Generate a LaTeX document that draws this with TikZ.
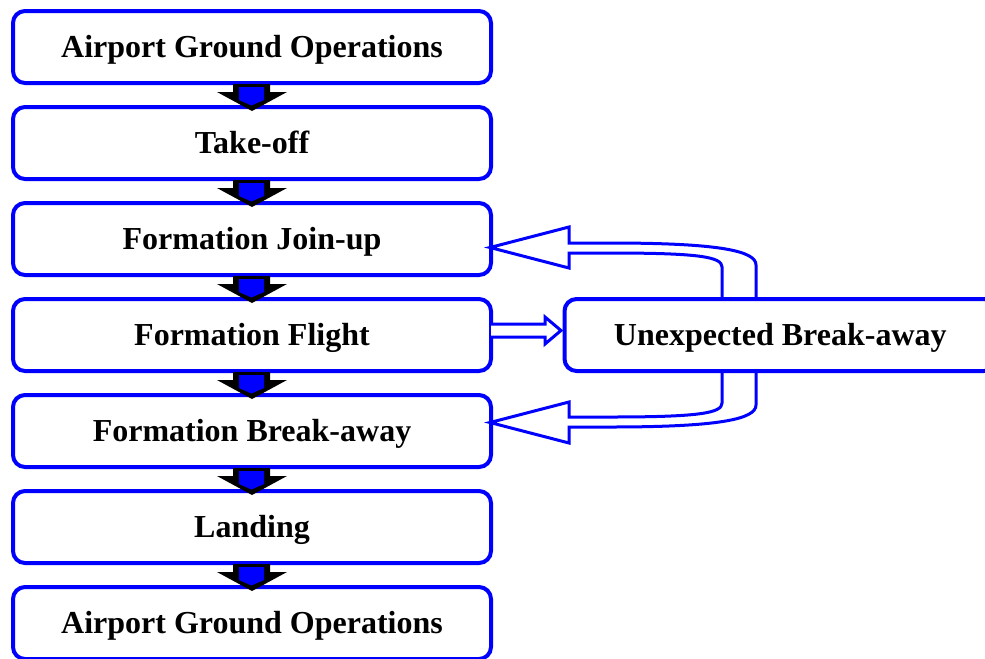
\documentclass[tikz,border=0pt]{standalone}
\usepackage{fontspec}
\setmainfont{Liberation Serif}
\usetikzlibrary{calc}
\tikzset{
  stage/.style={draw=blue, line width=3pt, rounded corners=9pt, fill=white,
    minimum width=358.5pt, minimum height=54pt, inner sep=0pt,
    text height=20pt, text depth=4.2pt,
    font=\fontsize{24}{28}\selectfont\bfseries},
  dblarrow/.style={draw=blue, line width=2.25pt, line join=miter, miter limit=20},
}
\begin{document}
\begin{tikzpicture}[x=0.75pt, y=-0.75pt]
\useasboundingbox (0,0) rectangle (985,658);
\clip (0,0) rectangle (985,658);

% stage boxes
\node[stage] (s1) at (252,47)  {Airport Ground Operations};
\node[stage] (s2) at (252,143) {Take-off};
\node[stage] (s3) at (252,239) {Formation Join-up};
\node[stage] (s4) at (252,335) {Formation Flight};
\node[stage] (s5) at (252,431) {Formation Break-away};
\node[stage] (s6) at (252,527) {Landing};
\node[stage] (s7) at (252,623) {Airport Ground Operations};
\node[stage, minimum width=323.6pt] (ub) at (780.25,335) {Unexpected Break-away};

% block arrows between stages
\foreach \a in {s1,s2,s3,s4,s5,s6} {
  \begin{scope}[shift={(\a.south)}]
    \fill[black] (-19,-1) -- (18,-1) -- (18,7) -- (35,7) -- (0,26) -- (-35,7) -- (-19,7) -- cycle;
    \fill[blue] (-13,2) -- (12,2) -- (12,15) -- (-0.5,20.5) -- (-13,15) -- cycle;
  \end{scope}
}

% Formation Flight -> Unexpected Break-away
\draw[dblarrow, fill=white] (491,324) -- (545,324) -- (545,317) -- (561,330.5) -- (545,344) -- (545,337) -- (491,337);

% Unexpected Break-away -> Formation Join-up
\draw[dblarrow] (756,299) -- (756,265) .. controls (756,251) and (720,243) .. (610,243) -- (569,243)
  -- (569,227) -- (490,247.5) -- (569,268) -- (569,253) -- (610,253)
  .. controls (700,253) and (722,257) .. (722,267) -- (722,299);

% Unexpected Break-away -> Formation Break-away
\draw[dblarrow] (756,371) -- (756,405) .. controls (756,419) and (720,427) .. (610,427) -- (569,427)
  -- (569,443) -- (490,422.5) -- (569,402) -- (569,417) -- (610,417)
  .. controls (700,417) and (722,413) .. (722,403) -- (722,371);
\end{tikzpicture}
\end{document}
